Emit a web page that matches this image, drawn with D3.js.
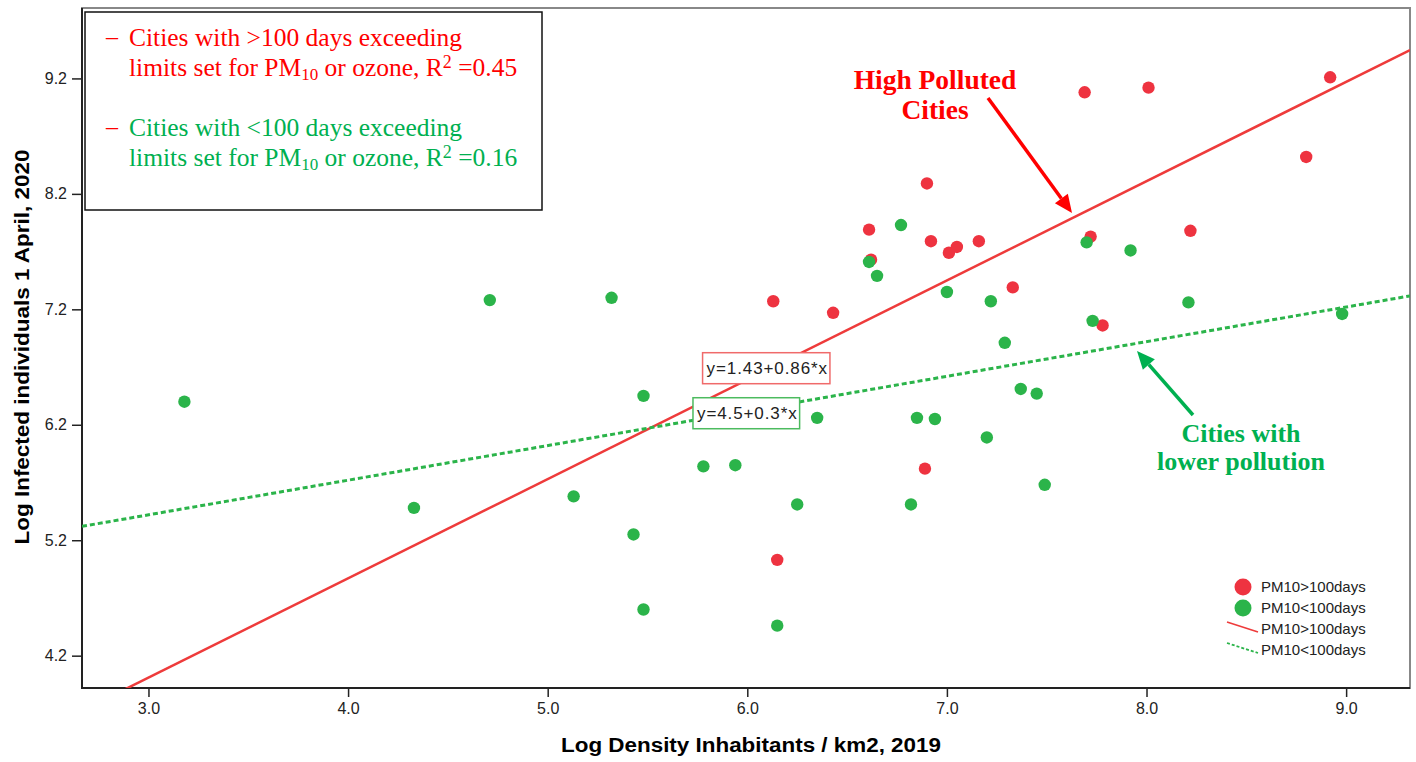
<!DOCTYPE html>
<html lang="en">
<head>
<meta charset="UTF-8">
<title>Infected vs density</title>
<script src="https://d3js.org/d3.v7.min.js"></script>
<style>
    body{ margin:0; background:#fff; }
    .serif{ font-family:"Liberation Serif","DejaVu Serif",serif; }
</style>
</head>
<body>
<svg width="1416" height="762"></svg>
<script>
// data
// log density (x) and log infected (y) for cities with >100 days over limits
const highX = [8.92, 7.69, 8.01, 8.80, 6.90, 6.61, 6.92, 6.62, 7.01, 7.05, 7.16, 7.72, 8.22, 7.33, 6.13, 6.43, 7.78, 6.89, 6.15];
const highY = [9.21, 9.08, 9.12, 8.52, 8.29, 7.89, 7.79, 7.63, 7.69, 7.74, 7.79, 7.83, 7.88, 7.39, 7.27, 7.17, 7.06, 5.82, 5.03];
// cities with <100 days
const lowX = [6.77, 6.61, 6.65, 7.00, 7.22, 7.29, 7.70, 7.92, 8.21, 7.73, 8.98, 5.48, 6.35, 6.85, 6.94, 7.37, 7.45, 7.20,
              5.78, 5.94, 7.49, 6.25, 6.82, 5.43, 5.48, 6.15, 4.71, 5.32, 3.18, 4.33, 5.13];
const lowY = [7.93, 7.61, 7.49, 7.35, 7.27, 6.91, 7.78, 7.71, 7.26, 7.10, 7.16, 6.45, 6.26, 6.26, 6.25, 6.51, 6.47, 6.09,
              5.84, 5.85, 5.68, 5.51, 5.51, 5.25, 4.60, 4.46, 7.28, 7.30, 6.40, 5.48, 5.58];

const groupNames = ["PM10>100days", "PM10<100days"];
const fitIntercept = [1.43, 4.52];
const fitSlope = [0.86, 0.3];
const fitLabels = ["y=1.43+0.86*x", "y=4.5+0.3*x"];
const xTicks = [3.0, 4.0, 5.0, 6.0, 7.0, 8.0, 9.0];
const yTicks = [4.2, 5.2, 6.2, 7.2, 8.2, 9.2];
const xDomain = [2.667, 9.32];
const yDomain = [3.92, 9.81];

const svg = d3.select("svg");
const mLeft = 82, mRight = 1410, mTop = 8, mBottom = 688;
const red = "#ff0000", green = "#00b050";
const dotColors = ["#ee3340", "#2bb44a"];
const lineColors = ["#ee3b3b", "#2bb44a"];

const xScale = d3.scaleLinear().domain(xDomain).range([mLeft, mRight]);
const yScale = d3.scaleLinear().domain(yDomain).range([mBottom, mTop]);

// plot frame
svg.append("rect")
    .attr("x", mLeft).attr("y", mTop)
    .attr("width", mRight - mLeft).attr("height", mBottom - mTop)
    .attr("fill", "none").attr("stroke", "#888").attr("stroke-width", 2);

svg.append("defs").append("clipPath").attr("id", "plot")
    .append("rect").attr("x", mLeft).attr("y", mTop)
    .attr("width", mRight - mLeft).attr("height", mBottom - mTop);

// axes
const xAxis = svg.append("g")
    .attr("transform", `translate(0,${mBottom})`)
    .call(d3.axisBottom(xScale).tickValues(xTicks).tickFormat(d3.format(".1f")).tickSize(9).tickPadding(6));
const yAxis = svg.append("g")
    .attr("transform", `translate(${mLeft},0)`)
    .call(d3.axisLeft(yScale).tickValues(yTicks).tickFormat(d3.format(".1f")).tickSize(10).tickPadding(5));
[xAxis, yAxis].forEach(g => {
    g.select(".domain").remove();
    g.attr("font-family", "'Liberation Sans',Arial,sans-serif").attr("font-size", 16);
    g.selectAll(".tick text").attr("fill", "#222");
    g.selectAll(".tick line").attr("stroke", "#222").attr("stroke-width", 1.5);
});
svg.append("line").attr("x1", mLeft).attr("x2", mLeft).attr("y1", mTop).attr("y2", mBottom + 1)
    .attr("stroke", "#222").attr("stroke-width", 2);
svg.append("line").attr("x1", mLeft - 1).attr("x2", mRight).attr("y1", mBottom).attr("y2", mBottom)
    .attr("stroke", "#222").attr("stroke-width", 2);

// axis titles
svg.append("text")
    .attr("x", (mLeft + mRight) / 2 + 5).attr("y", 752)
    .attr("text-anchor", "middle")
    .attr("font-family", "'Liberation Sans Narrow','Liberation Sans',Arial,sans-serif")
    .attr("font-weight", "bold").attr("font-size", 20)
    .attr("textLength", 380).attr("lengthAdjust", "spacingAndGlyphs")
    .text("Log Density Inhabitants / km2, 2019");
svg.append("text")
    .attr("transform", "translate(29,347) rotate(-90)")
    .attr("text-anchor", "middle")
    .attr("font-family", "'Liberation Sans Narrow','Liberation Sans',Arial,sans-serif")
    .attr("font-weight", "bold").attr("font-size", 20)
    .attr("textLength", 395).attr("lengthAdjust", "spacingAndGlyphs")
    .text("Log Infected individuals 1 April, 2020");

const plot = svg.append("g").attr("clip-path", "url(#plot)");

// fit lines
const fits = groupNames.map((n, i) => ({
    name: n, a: fitIntercept[i], b: fitSlope[i], color: lineColors[i], dashed: i === 1
}));
plot.selectAll("line.fit")
    .data(fits)
    .join("line")
    .attr("class", "fit")
    .attr("x1", xScale(xDomain[0])).attr("x2", xScale(xDomain[1]))
    .attr("y1", d => yScale(d.a + d.b * xDomain[0]))
    .attr("y2", d => yScale(d.a + d.b * xDomain[1]))
    .attr("stroke", d => d.color)
    .attr("stroke-width", d => d.dashed ? 3 : 2.5)
    .attr("stroke-dasharray", d => d.dashed ? "5,3" : null);

// points
const lowPts = lowX.map((x, i) => ({x: x, y: lowY[i], g: 1}));
const highPts = highX.map((x, i) => ({x: x, y: highY[i], g: 0}));
plot.selectAll("circle.pt")
    .data(highPts.concat(lowPts))
    .join("circle")
    .attr("class", "pt")
    .attr("cx", d => xScale(d.x))
    .attr("cy", d => yScale(d.y))
    .attr("r", 6.2)
    .attr("fill", d => dotColors[d.g]);

// equation labels
const eqPos = [[6.10, 6.69], [6.00, 6.30]];
const eqBorder = ["#f06a6a", "#4cbb5f"];
fitLabels.forEach((lab, i) => {
    const g = svg.append("g").attr("transform", `translate(${xScale(eqPos[i][0])},${yScale(eqPos[i][1])})`);
    const t = g.append("text")
        .attr("text-anchor", "middle").attr("dy", "0.36em")
        .attr("font-family", "'Liberation Sans',Arial,sans-serif")
        .attr("font-size", 17).attr("fill", "#222")
        .attr("letter-spacing", 0.9)
        .text(lab);
    const bb = t.node().getBBox();
    g.insert("rect", "text")
        .attr("x", bb.x - 4).attr("y", -15.5)
        .attr("width", bb.width + 6).attr("height", 31)
        .attr("fill", "#fff").attr("stroke", eqBorder[i]).attr("stroke-width", 1.5);
});

// legend
const lg = svg.append("g");
const legY = [587, 608, 629, 650];
groupNames.forEach((n, i) => {
    lg.append("circle").attr("cx", 1243).attr("cy", legY[i]).attr("r", 8.5).attr("fill", dotColors[i]);
    lg.append("line").attr("x1", 1227).attr("x2", 1258)
        .attr("y1", legY[i + 2] - 7).attr("y2", legY[i + 2] + 3)
        .attr("stroke", lineColors[i]).attr("stroke-width", i ? 1.8 : 1.5)
        .attr("stroke-dasharray", i ? "3,2" : null);
});
lg.selectAll("text")
    .data(groupNames.concat(groupNames))
    .join("text")
    .attr("x", 1261).attr("y", (d, i) => legY[i] + 5)
    .attr("font-family", "'Liberation Sans',Arial,sans-serif")
    .attr("font-size", 15).attr("fill", "#222")
    .text(d => d);

// text box top-left
const box = svg.append("g");
box.append("rect").attr("x", 85).attr("y", 12).attr("width", 457).attr("height", 198)
    .attr("fill", "#fff").attr("stroke", "#111").attr("stroke-width", 1.5);
const boxLines = [
    {y: 46, color: red, first: "Cities with >100 days exceeding", r2: "0.45"},
    {y: 136, color: green, first: "Cities with <100 days exceeding", r2: "0.16"}
];
boxLines.forEach(b => {
    box.append("text").attr("class", "serif").attr("x", 106).attr("y", b.y - 2)
        .attr("font-size", 24).attr("fill", red).text("–");
    box.append("text").attr("class", "serif").attr("x", 129).attr("y", b.y)
        .attr("font-size", 25.5).attr("fill", b.color).text(b.first);
    const t = box.append("text").attr("class", "serif").attr("x", 129).attr("y", b.y + 30)
        .attr("font-size", 25.5).attr("fill", b.color);
    t.append("tspan").text("limits set for PM");
    t.append("tspan").attr("font-size", 17).attr("dy", 4).text("10");
    t.append("tspan").attr("dy", -4).text(" or ozone, R");
    t.append("tspan").attr("font-size", 18).attr("dy", -8).text("2");
    t.append("tspan").attr("dy", 8).text(" =" + b.r2);
});

// annotations
const ann = svg.append("g").attr("class", "serif").attr("font-weight", "bold")
    .attr("text-anchor", "middle").attr("font-size", 26);
ann.append("text").attr("x", 935).attr("y", 89).attr("fill", red)
    .attr("font-size", 27.5).text("High Polluted");
ann.append("text").attr("x", 935).attr("y", 119).attr("fill", red)
    .attr("font-size", 27.5).text("Cities");
ann.append("text").attr("x", 1241).attr("y", 442).attr("fill", green).text("Cities with");
ann.append("text").attr("x", 1241).attr("y", 470).attr("fill", green).text("lower pollution");

function arrow(x1, y1, x2, y2, color) {
    const ang = Math.atan2(y2 - y1, x2 - x1);
    const len = 18, w = 8;
    const bx = x2 - len * Math.cos(ang), by = y2 - len * Math.sin(ang);
    svg.append("line").attr("x1", x1).attr("y1", y1).attr("x2", bx).attr("y2", by)
        .attr("stroke", color).attr("stroke-width", 3.5);
    svg.append("path")
        .attr("d", `M${x2},${y2}L${bx + w * Math.sin(ang)},${by - w * Math.cos(ang)}L${bx - w * Math.sin(ang)},${by + w * Math.cos(ang)}Z`)
        .attr("fill", color);
}
arrow(988, 98, 1072, 213, red);
arrow(1193, 415, 1137, 351, green);
</script>
</body>
</html>
